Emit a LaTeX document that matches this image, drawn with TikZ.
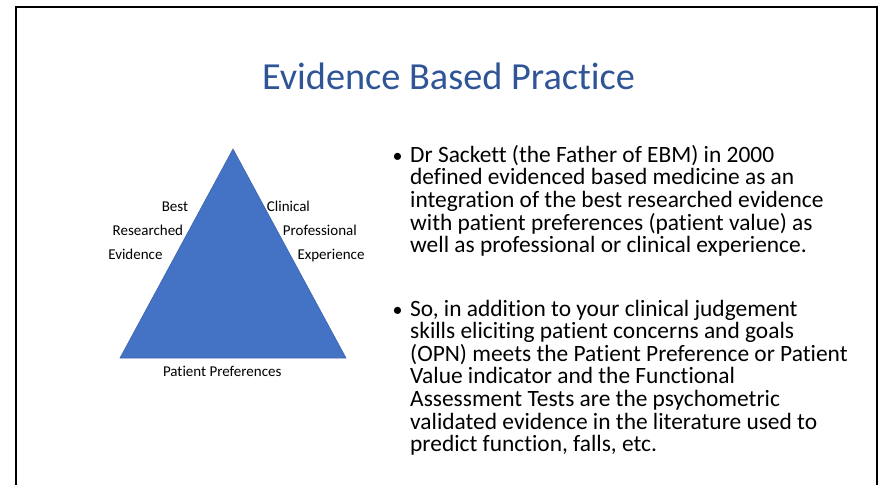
\documentclass[tikz,border=0pt]{standalone}
\usepackage{fontspec}
\setmainfont{Carlito}[Ligatures=NoCommon]
\definecolor{titleblue}{RGB}{47,85,151}
\definecolor{triblue}{RGB}{68,114,196}
\definecolor{triedge}{RGB}{60,100,175}
\begin{document}
\begin{tikzpicture}[x=1pt,y=-1pt,
  lbl/.style={inner sep=0pt,font=\fontsize{15}{18}\selectfont},
  bullet/.style={inner sep=0pt,font=\fontsize{23.4}{22.6}\selectfont,align=left}]
\useasboundingbox (0,0) rectangle (879,485);

% Rahmen
\coordinate (FL) at (16,495);
\coordinate (FR) at (877,495);
\draw[line width=2pt] (FL) -- (16,7) -- (877,7) -- (FR);

% Titel
\node[inner sep=0pt,anchor=base,text=titleblue,font=\fontsize{38.3}{44}\selectfont] (title) at (448.5,89) {Evidence Based Practice};

% Dreieck
\coordinate (top) at (233,149);
\coordinate (bl) at (120,358);
\coordinate (br) at (346,358);
\filldraw[fill=triblue,draw=triedge,line width=0.6pt] (top) -- (bl) -- (br) -- cycle;

% Beschriftung links und rechts
\node[lbl,anchor=base east] (best) at (188.3,211.7) {Best};
\node[lbl,anchor=base east] (res) at (183.3,235) {Researched};
\node[lbl,anchor=base east] (evid) at (162.7,259) {Evidence};
\node[lbl,anchor=base west] (clin) at (266.7,211.7) {Clinical};
\node[lbl,anchor=base west] (prof) at (282.7,235) {Professional};
\node[lbl,anchor=base west] (exp) at (297.3,259) {Experience};

% Beschriftung unten
\node[lbl,anchor=base] (pat) at (222.2,376.7) {Patient Preferences};

% Punkte
\node[bullet,anchor=base,font=\fontsize{20}{22.6}\selectfont] (dotA) at (397.5,162.7) {•};
\node[bullet,anchor=base,font=\fontsize{20}{22.6}\selectfont] (dotB) at (397.5,316) {•};

% Text rechts (Anker an der letzten Zeile)
\node[bullet,anchor=base west] (txtA) at (410,252.7) {Dr Sackett (the Father of EBM) in 2000\\
defined evidenced based medicine as an\\
integration of the best researched evidence\\
with patient preferences (patient value) as\\
well as professional or clinical experience.};
\node[bullet,anchor=base west] (txtB) at (410,451.7) {So, in addition to your clinical judgement\\
skills eliciting patient concerns and goals\\
(OPN) meets the Patient Preference or Patient\\
Value indicator and the Functional\\
Assessment Tests are the psychometric\\
validated evidence in the literature used to\\
predict function, falls, etc.};

\end{tikzpicture}
\end{document}
